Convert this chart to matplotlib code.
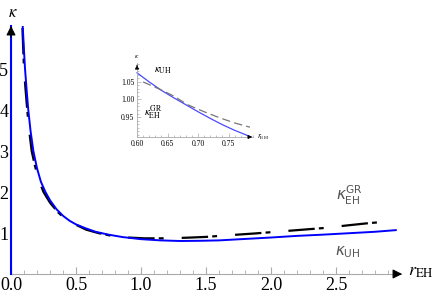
import matplotlib
matplotlib.use('Agg')
import matplotlib.pyplot as plt
import numpy as np

plt.rcParams['font.family'] = 'Liberation Serif'
plt.rcParams['mathtext.fontset'] = 'stix'
plt.rcParams['lines.scale_dashes'] = False

# main curves
x_uh = [0.09, 0.1, 0.108, 0.12, 0.133, 0.15, 0.172, 0.2, 0.23, 0.265, 0.3, 0.35, 0.4, 0.45,
        0.5, 0.57, 0.65, 0.75, 0.86, 1.0, 1.15, 1.3, 1.45, 1.6, 1.8, 2.0, 2.2, 2.4, 2.6, 2.8, 2.96]
y_uh = [6.05, 5.45, 5.0, 4.5, 4.0, 3.5, 3.0, 2.58, 2.25, 2.0, 1.8, 1.58, 1.42, 1.3,
        1.21, 1.12, 1.03, 0.96, 0.9, 0.85, 0.82, 0.805, 0.81, 0.82, 0.855, 0.89, 0.93, 0.96, 0.995, 1.03, 1.07]

x_gr = [0.088, 0.1, 0.112, 0.125, 0.14, 0.159, 0.185, 0.215, 0.25, 0.3, 0.36, 0.42, 0.5, 0.58,
        0.67, 0.76, 0.9, 1.03, 1.2, 1.35, 1.5, 1.65, 1.88, 2.04, 2.2, 2.4, 2.6, 2.75, 2.94]
y_gr = [6.0, 5.0, 4.5, 4.0, 3.5, 3.0, 2.63, 2.28, 2.0, 1.74, 1.51, 1.34, 1.2, 1.08,
        1.0, 0.94, 0.89, 0.87, 0.87, 0.885, 0.905, 0.94, 0.99, 1.03, 1.07, 1.12, 1.19, 1.24, 1.29]

# inset curves
xi_uh = [0.60, 0.62, 0.64, 0.66, 0.68, 0.70, 0.72, 0.74, 0.76, 0.787]
yi_uh = [1.076, 1.050, 1.026, 1.005, 0.985, 0.965, 0.946, 0.928, 0.912, 0.893]
xi_gr = [0.61, 0.64, 0.66, 0.683, 0.71, 0.735, 0.76, 0.785]
yi_gr = [1.05, 1.027, 1.01, 0.985, 0.965, 0.948, 0.933, 0.921]

main_xticks = [0.0, 0.5, 1.0, 1.5, 2.0, 2.5]
main_yticks = [1, 2, 3, 4, 5]
inset_xticks = [0.60, 0.65, 0.70, 0.75]
inset_yticks = [0.95, 1.00, 1.05]

W, H = 436, 299
fig = plt.figure(figsize=(W / 100, H / 100), dpi=100)

def px(x0, y0, x1, y1):
    return [x0 / W, 1 - y1 / H, (x1 - x0) / W, (y1 - y0) / H]

ax = fig.add_axes(px(11, 26, 401, 274))
ax.set_xlim(0, 3.0)
ax.set_ylim(0, 6.05)
for s in ['top', 'right']:
    ax.spines[s].set_visible(False)
ax.spines['bottom'].set_color('#aaaaaa')
ax.spines['left'].set_color('#aaaaaa')
ax.axvline(0, color='#0000ff', lw=1.5, zorder=3, clip_on=False)

ax.plot(x_uh, y_uh, color='#0000ff', lw=1.4, zorder=4)
ax.plot(x_gr, y_gr, color='black', lw=1.6, linestyle=(0, (19, 3, 3.5, 13)), zorder=3)

ax.set_xticks(main_xticks)
ax.set_xticklabels(['%.1f' % v for v in main_xticks])
ax.set_xticks(np.arange(0.1, 3.0, 0.1), minor=True)
ax.set_yticks(main_yticks)
ax.tick_params(axis='x', which='major', direction='in', length=5, color='#aaaaaa', labelsize=13, pad=2)
ax.tick_params(axis='x', which='minor', direction='in', length=3, color='#aaaaaa')
ax.tick_params(axis='y', which='major', length=0, labelsize=13, pad=2)

# axis arrows
ax.annotate('', xy=(3.03, 0), xytext=(2.93, 0),
            arrowprops=dict(arrowstyle='-|>', color='black', lw=0.8, mutation_scale=14),
            annotation_clip=False)
ax.annotate('', xy=(0, 6.12), xytext=(0, 5.7),
            arrowprops=dict(arrowstyle='-|>', color='black', lw=0.8, mutation_scale=14),
            annotation_clip=False)

fig.text(13 / W, 1 - 13 / H, r'$\kappa$', fontsize=12, ha='center', va='center')
fig.text(408 / W, 1 - 272 / H, r'$r_{\mathrm{EH}}$', fontsize=13, ha='left', va='center')

fig.text(350 / W, 1 - 195 / H, r'$\kappa_{\mathrm{EH}}^{\mathrm{GR}}$', fontsize=11,
         color='#555555', ha='center', va='center', math_fontfamily='dejavusans')
fig.text(348 / W, 1 - 252 / H, r'$\kappa_{\mathrm{UH}}$', fontsize=11,
         color='#555555', ha='center', va='center', math_fontfamily='dejavusans')

# inset
ins = fig.add_axes(px(137, 63, 253, 137))
ins.set_xlim(0.60, 0.79)
ins.set_ylim(0.893, 1.104)
for s in ['top', 'right']:
    ins.spines[s].set_visible(False)
ins.spines['bottom'].set_color('#aaaaaa')
ins.spines['left'].set_color('#aaaaaa')
ins.spines['bottom'].set_linewidth(0.6)
ins.spines['left'].set_linewidth(0.6)
ins.plot(xi_uh, yi_uh, color='#4a4aff', lw=0.9, clip_on=False)
ins.plot(xi_gr, yi_gr, color='#777777', lw=0.9, linestyle=(0, (6, 3)), clip_on=False)
ins.set_xticks(inset_xticks)
ins.set_xticklabels(['%.2f' % v for v in inset_xticks])
ins.set_yticks(inset_yticks)
ins.set_yticklabels(['%.2f' % v for v in inset_yticks])
ins.set_xticks(np.arange(0.61, 0.79, 0.01), minor=True)
ins.set_yticks(np.arange(0.90, 1.10, 0.01), minor=True)
ins.tick_params(which='major', direction='in', length=3, width=0.5, color='#aaaaaa', labelsize=5.5, pad=2)
ins.tick_params(which='minor', direction='in', length=1.5, width=0.5, color='#aaaaaa')
ins.annotate('', xy=(0.793, 0.893), xytext=(0.78, 0.893),
             arrowprops=dict(arrowstyle='-|>', color='black', lw=0.5, mutation_scale=6),
             annotation_clip=False)
ins.annotate('', xy=(0.60, 1.106), xytext=(0.60, 1.09),
             arrowprops=dict(arrowstyle='-|>', color='black', lw=0.5, mutation_scale=6),
             annotation_clip=False)

fig.text(137 / W, 1 - 56 / H, r'$\kappa$', fontsize=5, ha='center', va='center')
fig.text(257 / W, 1 - 137 / H, r'$r_{\mathrm{EH}}$', fontsize=5.5, ha='left', va='center')
fig.text(163 / W, 1 - 71 / H, r'$\kappa_{\mathrm{UH}}$', fontsize=8, ha='center', va='center')
fig.text(153 / W, 1 - 113 / H, r'$\kappa_{\mathrm{EH}}^{\mathrm{GR}}$', fontsize=8, ha='center', va='center')

fig.savefig('out.png', dpi=100)
